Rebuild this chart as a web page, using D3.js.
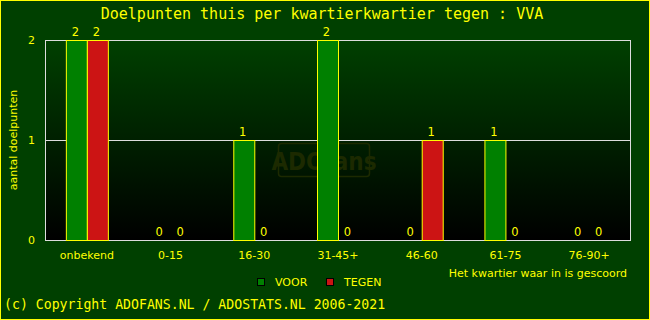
<!DOCTYPE html>
<html>
<head>
<meta charset="utf-8">
<script src="https://cdn.jsdelivr.net/npm/d3@7"></script>
<style>
  body { margin: 0; background: #004000; }
  svg { display: block; }
</style>
</head>
<body>
<div id="chart"></div>
<script>
// data
const categories = ["onbekend", "0-15", "16-30", "31-45+", "46-60", "61-75", "76-90+"];
const voor = [2, 0, 1, 2, 0, 1, 0];
const tegen = [2, 0, 0, 0, 1, 0, 0];
const yTicks = [0, 1, 2];
const series = [
  {name: "VOOR", values: voor, color: "#008000"},
  {name: "TEGEN", values: tegen, color: "#cc1414"}
];

const W = 650, H = 320;
const plot = {left: 45, right: 631, top: 40, bottom: 240};
const yellow = "#ffff00";

const svg = d3.select("#chart").append("svg")
  .attr("width", W).attr("height", H);

// achtergrond + rand
svg.append("rect").attr("x", 0.5).attr("y", 0.5).attr("width", W - 1).attr("height", H - 1)
  .attr("fill", "#004000").attr("stroke", yellow);

// gradient van het plotvlak
const defs = svg.append("defs");
const grad = defs.append("linearGradient").attr("id", "bg").attr("x1", 0).attr("y1", 0).attr("x2", 0).attr("y2", 1);
grad.append("stop").attr("offset", "0%").attr("stop-color", "#004000");
grad.append("stop").attr("offset", "100%").attr("stop-color", "#000000");

// schalen
const x = d3.scaleBand().domain(categories).range([plot.left, plot.right]);
const y = d3.scaleLinear().domain([0, 2]).range([plot.bottom, plot.top]);
const barW = 21;
const xs = d3.scaleBand().domain(series.map(s => s.name)).range([0, barW * 2]);

svg.append("rect")
  .attr("x", plot.left).attr("y", plot.top)
  .attr("width", plot.right - plot.left).attr("height", plot.bottom - plot.top)
  .attr("fill", "url(#bg)");

// watermerk
const wm = svg.append("g");
wm.append("rect").attr("x", 278.5).attr("y", 143.5).attr("width", 91).attr("height", 33).attr("rx", 3)
  .attr("fill", "none").attr("stroke", "#1c2a00").attr("stroke-width", 1.5);
wm.append("text").attr("x", 324).attr("y", 170).attr("text-anchor", "middle")
  .attr("font-family", "DejaVu Sans Condensed, DejaVu Sans").attr("font-weight", "bold")
  .attr("font-size", 24).attr("fill", "#1c2a00").text("ADOfans");

// gridlijnen
svg.append("g").selectAll("line").data(yTicks).join("line")
  .attr("x1", plot.left).attr("x2", plot.right)
  .attr("y1", d => y(d) + 0.5).attr("y2", d => y(d) + 0.5)
  .attr("stroke", "#dddddd");
svg.append("rect")
  .attr("x", plot.left + 0.5).attr("y", plot.top + 0.5)
  .attr("width", plot.right - plot.left - 1).attr("height", plot.bottom - plot.top)
  .attr("fill", "none").attr("stroke", "#dddddd");

// balken
const groups = svg.append("g").selectAll("g").data(categories).join("g")
  .attr("transform", d => `translate(${x(d) + x.bandwidth() / 2 - barW},0)`);

series.forEach(s => {
  groups.filter((d, i) => s.values[i] > 0).append("rect")
    .attr("x", d => xs(s.name) + 0.5)
    .attr("y", (d) => y(s.values[categories.indexOf(d)]) + 0.5)
    .attr("width", barW)
    .attr("height", d => y(0) - y(s.values[categories.indexOf(d)]))
    .attr("fill", s.color).attr("stroke", yellow);

  groups.append("text")
    .attr("x", d => xs(s.name) + barW / 2 - 1)
    .attr("y", d => y(s.values[categories.indexOf(d)]) - 4)
    .attr("text-anchor", "middle")
    .attr("font-family", "DejaVu Sans").attr("font-size", 11.5).attr("fill", yellow)
    .text(d => s.values[categories.indexOf(d)]);
});

// assen
const fontAx = "DejaVu Sans";
svg.append("g").selectAll("text").data(yTicks).join("text")
  .attr("x", 35).attr("y", d => y(d) + 4)
  .attr("text-anchor", "end").attr("font-family", fontAx).attr("font-size", 11).attr("fill", yellow)
  .text(d => d);

svg.append("g").selectAll("text").data(categories).join("text")
  .attr("x", d => x(d) + x.bandwidth() / 2)
  .attr("y", 259)
  .attr("text-anchor", "middle").attr("font-family", fontAx).attr("font-size", 11).attr("fill", yellow)
  .text(d => d);

svg.append("text")
  .attr("transform", `translate(17,${(plot.top + plot.bottom) / 2}) rotate(-90)`)
  .attr("text-anchor", "middle").attr("font-family", fontAx).attr("font-size", 11).attr("fill", yellow)
  .text("aantal doelpunten");

svg.append("text")
  .attr("x", 627).attr("y", 277)
  .attr("text-anchor", "end").attr("font-family", fontAx).attr("font-size", 11).attr("fill", yellow)
  .text("Het kwartier waar in is gescoord");

// legenda
const legX = [257, 326];
const leg = svg.append("g").selectAll("g").data(series).join("g")
  .attr("transform", (d, i) => `translate(${legX[i]},278)`);
leg.append("rect").attr("x", 0.5).attr("y", 0.5).attr("width", 7).attr("height", 7)
  .attr("fill", d => d.color).attr("stroke", "#000");
leg.append("text").attr("x", 18).attr("y", 8)
  .attr("font-family", fontAx).attr("font-size", 11).attr("fill", yellow)
  .text(d => d.name);

// titel en copyright
svg.append("text")
  .attr("x", 322).attr("y", 19).attr("text-anchor", "middle")
  .attr("font-family", "DejaVu Sans Mono").attr("font-size", 15)
  .attr("fill", yellow)
  .text("Doelpunten thuis per kwartierkwartier tegen : VVA");

svg.append("text")
  .attr("x", 4).attr("y", 309)
  .attr("font-family", "DejaVu Sans Mono").attr("font-size", 13.2)
  .attr("fill", yellow)
  .text("(c) Copyright ADOFANS.NL / ADOSTATS.NL 2006-2021");
</script>
</body>
</html>
